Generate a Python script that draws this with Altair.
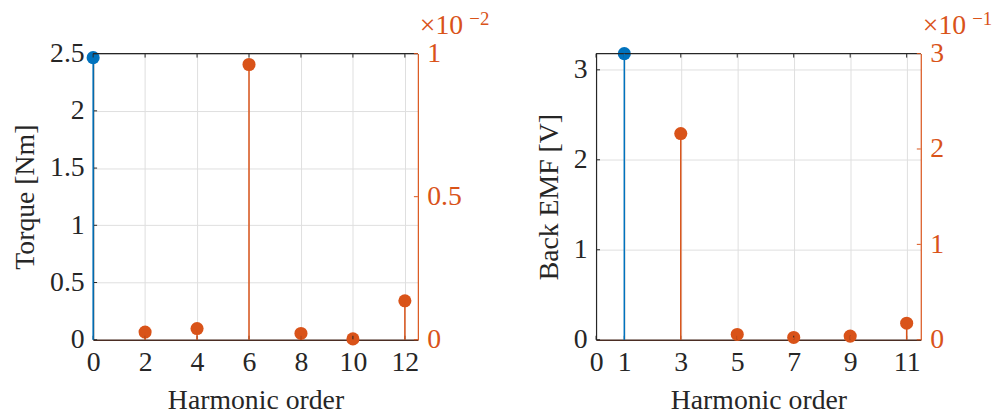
import altair as alt
import pandas as pd

BLUE = "#0072BD"
ORANGE = "#D95319"
DARK = "#262626"
BASE = "#4b2d23"
GRID = "#dfdfdf"
FONT = "Liberation Serif"
FS = 28

# ---- Panel 1: torque harmonics ----
torque_main_order = [0]
torque_main_value = [2.465]
torque_harm_order = [2, 4, 6, 8, 10, 12]
torque_harm_value = [0.00027, 0.00039, 0.00962, 0.00022, 0.00003, 0.00136]
torque_xticks = [0, 2, 4, 6, 8, 10, 12]
torque_yticks = [0, 0.5, 1, 1.5, 2, 2.5]
torque_rticks = [0, 0.005, 0.01]

# ---- Panel 2: back EMF harmonics ----
emf_main_order = [1]
emf_main_value = [3.18]
emf_harm_order = [3, 5, 7, 9, 11]
emf_harm_value = [0.2162, 0.0055, 0.0024, 0.0038, 0.0173]
emf_xticks = [0, 1, 3, 5, 7, 9, 11]
emf_yticks = [0, 1, 2, 3]
emf_rticks = [0, 0.1, 0.2, 0.3]

W, H = 328, 289
TICK = 4


def panel(main_x, main_y, harm_x, harm_y, xdom, xticks, ydom, yticks,
          rdom, rticks, rmult, ytitle, exp_text):
    main = pd.DataFrame({"order": main_x, "value": main_y})
    harm = pd.DataFrame({"order": harm_x, "value": harm_y})
    xt = pd.DataFrame({"order": xticks})
    yt = pd.DataFrame({"v": yticks})
    rt = pd.DataFrame({"v": rticks})
    one = pd.DataFrame({"a": [0]})

    xscale = alt.Scale(domain=xdom, nice=False, zero=False)
    xaxis = alt.Axis(values=xticks, title="Harmonic order", grid=True,
                     domainColor=BASE, domainWidth=1.6, labelFlush=False,
                     labelExpr="format(datum.value, '~g')")
    X = alt.X("order:Q", scale=xscale, axis=xaxis)

    yscale = alt.Scale(domain=ydom, nice=False, zero=False)
    yaxis = alt.Axis(values=yticks, title=ytitle, grid=True, orient="left",
                     labelFlush=False,
                     labelExpr="format(datum.value, '~g')")
    rscale = alt.Scale(domain=rdom, nice=False, zero=False)
    raxis = alt.Axis(values=rticks, title=None, grid=False, orient="right",
                     domainColor=ORANGE, labelColor=ORANGE, labelFlush=False,
                     labelExpr=f"format(datum.value*{rmult}, '~g')")

    top = alt.Chart(one).mark_rule(color=DARK, strokeWidth=1.2).encode(
        x=alt.value(0), x2=alt.value(W), y=alt.value(0))
    xtb = alt.Chart(xt).mark_rule(color=DARK, strokeWidth=1).encode(
        x=X, y=alt.value(H), y2=alt.value(H - TICK))
    xtt = alt.Chart(xt).mark_rule(color=DARK, strokeWidth=1).encode(
        x=X, y=alt.value(0), y2=alt.value(TICK))

    lpt = alt.Chart(main).mark_point(filled=True, shape="circle", size=175,
                                     color=BLUE, opacity=1).encode(
        x=X, y=alt.Y("value:Q", scale=yscale, axis=yaxis))
    lstem = alt.Chart(main).mark_rule(color=BLUE, strokeWidth=1.5).encode(
        x=X, y=alt.Y("value:Q", scale=yscale, axis=None), y2=alt.Y2Datum(0))
    ltk = alt.Chart(yt).mark_rule(color=DARK, strokeWidth=1).encode(
        x=alt.value(0), x2=alt.value(TICK),
        y=alt.Y("v:Q", scale=yscale, axis=None))

    rpt = alt.Chart(harm).mark_point(filled=True, shape="circle", size=175,
                                     color=ORANGE, opacity=1).encode(
        x=X, y=alt.Y("value:Q", scale=rscale, axis=raxis))
    rstem = alt.Chart(harm).mark_rule(color=ORANGE, strokeWidth=1.5).encode(
        x=X, y=alt.Y("value:Q", scale=rscale, axis=None), y2=alt.Y2Datum(0))
    rtk = alt.Chart(rt).mark_rule(color=ORANGE, strokeWidth=1).encode(
        x=alt.value(W - TICK), x2=alt.value(W),
        y=alt.Y("v:Q", scale=rscale, axis=None))

    times = alt.Chart(one).mark_text(text="×10", color=ORANGE, font=FONT,
                                     fontSize=FS, align="left",
                                     baseline="alphabetic").encode(
        x=alt.value(W + 2), y=alt.value(-20))
    sup = alt.Chart(one).mark_text(text=exp_text, color=ORANGE, font=FONT,
                                   fontSize=19, align="left",
                                   baseline="alphabetic").encode(
        x=alt.value(W + 52), y=alt.value(-29))

    return alt.layer(lpt, rpt, top, xtb, xtt, ltk, rtk, lstem, rstem,
                     times, sup).resolve_scale(
        y="independent").properties(width=W, height=H)


p1 = panel(torque_main_order, torque_main_value, torque_harm_order,
           torque_harm_value, [0, 12.5], torque_xticks, [0, 2.5],
           torque_yticks, [0, 0.01], torque_rticks, 100, "Torque [Nm]", "−2")
p2 = panel(emf_main_order, emf_main_value, emf_harm_order, emf_harm_value,
           [0, 11.5], emf_xticks, [0, 3.18], emf_yticks, [0, 0.3],
           emf_rticks, 10, "Back EMF [V]", "−1")

chart = alt.hconcat(p1, p2, spacing=46).properties(
    padding={"left": 4, "top": 0, "right": 5, "bottom": 5},
    background="white",
).configure_view(stroke=None).configure_axis(
    labelFont=FONT, labelFontSize=FS, labelColor=DARK,
    titleFont=FONT, titleFontSize=FS, titleColor=DARK, titleFontWeight="normal",
    domainColor=DARK, domainWidth=1.2, ticks=False, gridColor=GRID,
    gridWidth=1, labelPadding=9, titlePadding=10,
)

chart.save("out.html", embed_options={"renderer": "svg", "actions": False})
